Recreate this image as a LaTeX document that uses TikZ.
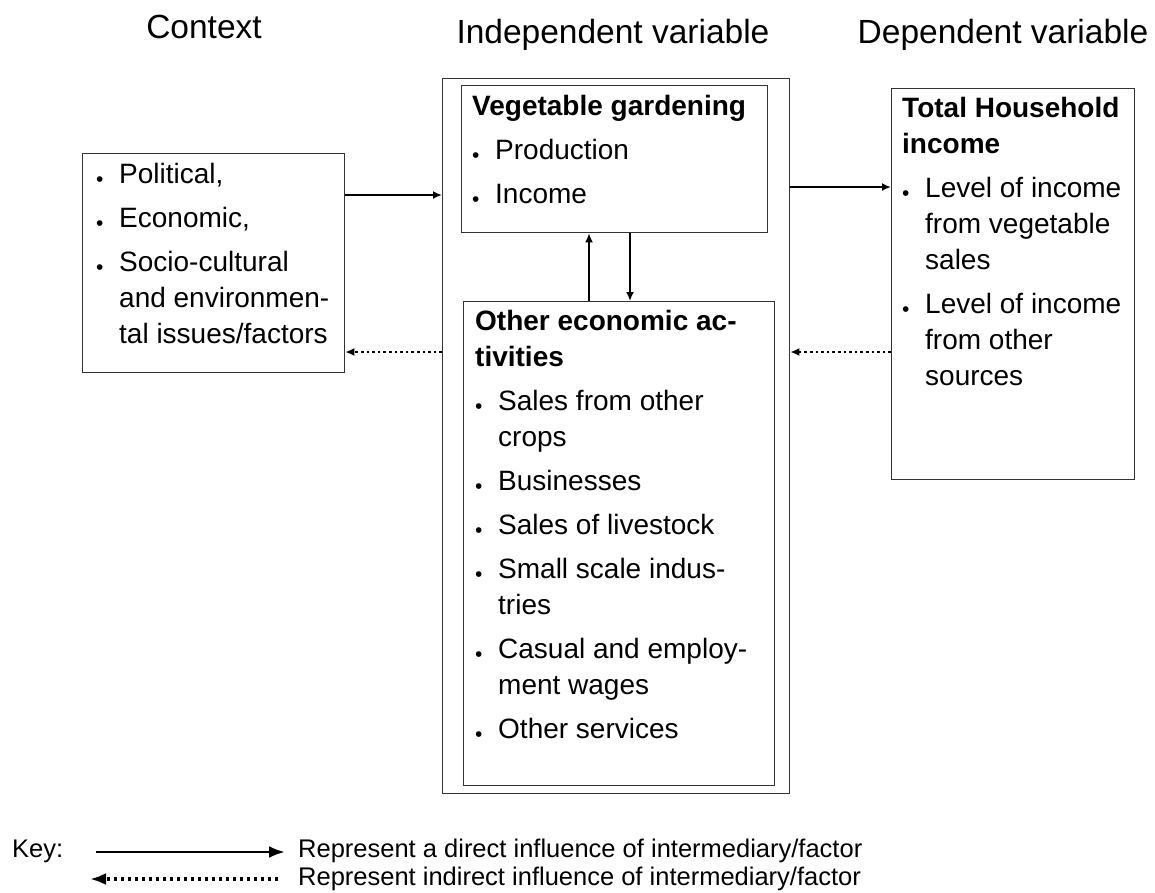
\documentclass[tikz,border=0pt]{standalone}
\usepackage{fontspec}
\setmainfont{Liberation Sans}
\usetikzlibrary{arrows.meta}

% small bullet with a fixed indent
\newcommand{\bul}{\makebox[23pt][l]{\raisebox{-3pt}{\fontsize{21}{21}\selectfont\textbullet}}}
\newcommand{\ind}{\hspace*{23pt}}

\tikzset{
  box/.style={draw=black!80, line width=1.3pt, inner sep=0pt, anchor=north west},
  txt/.style={inner sep=0pt, anchor=north west, font=\fontsize{28}{36}\selectfont},
  head/.style={inner sep=0pt, anchor=base, font=\fontsize{33.5}{40}\selectfont},
  keytxt/.style={inner sep=0pt, anchor=base west, font=\fontsize{25.5}{30}\selectfont},
  direct/.style={line width=2pt, -{Latex[length=9pt,width=8pt]}},
  indirect/.style={line width=2.6pt, dash pattern=on 2.6pt off 3pt, -{Latex[length=9pt,width=8pt]}},
  keydirect/.style={line width=2.8pt, -{Latex[length=16pt,width=12pt]}},
  keyindirect/.style={line width=3.4pt, dash pattern=on 3.5pt off 3.5pt, -{Latex[length=16pt,width=12pt]}}
}

\begin{document}
\begin{tikzpicture}[x=1pt,y=-1pt]
	\useasboundingbox (0,0) rectangle (1155,892);
	% headings
	\node [head] (hctx) at (204,38) {Context};
	\node [head] (hind) at (613,43) {Independent variable};
	\node [head] (hdep) at (1003,43) {Dependent variable};
	% boxes
	\node [box, minimum width=262pt, minimum height=219pt] (ctx) at (82,153) {};
	\node [box, minimum width=347pt, minimum height=715pt] (indep) at (442,78) {};
	\node [box, minimum width=306pt, minimum height=147pt] (veg) at (461,85) {};
	\node [box, minimum width=311pt, minimum height=484pt] (other) at (463,301) {};
	\node [box, minimum width=243pt, minimum height=391pt] (dep) at (891,88) {};
	% box texts
	\node [txt] (ctxtxt) at (96,157.8) {\begin{tabular}{@{}l@{}}
		\bul Political,\\[8pt]
		\bul Economic,\\[8pt]
		\bul Socio-cultural\\
		\ind and environmen-\\
		\ind tal issues/factors
	\end{tabular}};
	\node [txt] (vegtxt) at (472,89.8) {\begin{tabular}{@{}l@{}}
		\textbf{Vegetable gardening}\\[8pt]
		\bul Production\\[8pt]
		\bul Income
	\end{tabular}};
	\node [txt] (othertxt) at (475,304.8) {\begin{tabular}{@{}l@{}}
		\textbf{Other economic ac-}\\
		\textbf{tivities}\\[8pt]
		\bul Sales from other\\
		\ind crops\\[8pt]
		\bul Businesses\\[8pt]
		\bul Sales of livestock\\[8pt]
		\bul Small scale indus-\\
		\ind tries\\[8pt]
		\bul Casual and employ-\\
		\ind ment wages\\[8pt]
		\bul Other services
	\end{tabular}};
	\node [txt] (deptxt) at (902,91.8) {\begin{tabular}{@{}l@{}}
		\textbf{Total Household}\\
		\textbf{income}\\[8pt]
		\bul Level of income\\
		\ind from vegetable\\
		\ind sales\\[8pt]
		\bul Level of income\\
		\ind from other\\
		\ind sources
	\end{tabular}};
	% arrow levels
	\coordinate (lvlA) at (0,195);
	\coordinate (lvlB) at (0,187);
	\coordinate (lvlC) at (0,352);
	\coordinate (upx) at (589,0);
	\coordinate (dnx) at (630,0);
	\draw [direct] (ctx.east |- lvlA) -- (indep.west |- lvlA);
	\draw [indirect] (indep.west |- lvlC) -- (ctx.east |- lvlC);
	\draw [direct] (indep.east |- lvlB) -- (dep.west |- lvlB);
	\draw [indirect] (dep.west |- lvlC) -- (indep.east |- lvlC);
	\draw [direct] (other.north -| upx) -- (veg.south -| upx);
	\draw [direct] (veg.south -| dnx) -- (other.north -| dnx);
	% key
	\node [keytxt] (key) at (12,857) {Key:};
	\coordinate (k1s) at (96,852);
	\coordinate (k1e) at (285,852);
	\coordinate (k2s) at (278,879);
	\coordinate (k2e) at (90,879);
	\draw [keydirect] (k1s) -- (k1e);
	\draw [keyindirect] (k2s) -- (k2e);
	\node [keytxt] (keyd) at (298,857) {Represent a direct influence of intermediary/factor};
	\node [keytxt] (keyi) at (298,885.5) {Represent indirect influence of intermediary/factor};
\end{tikzpicture}
\end{document}
